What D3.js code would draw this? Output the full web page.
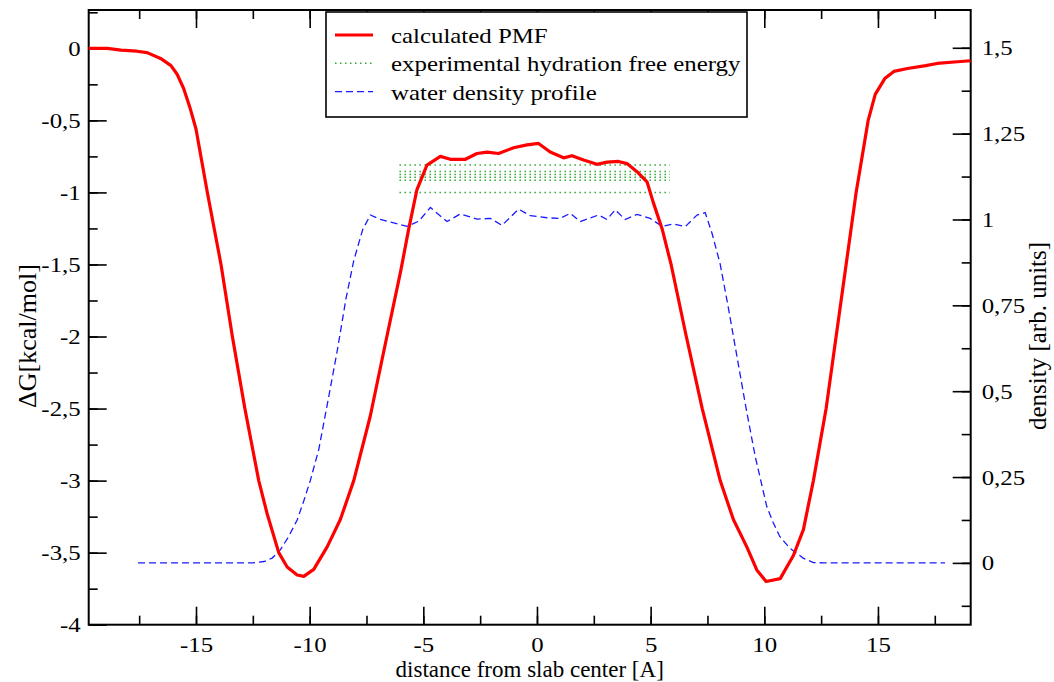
<!DOCTYPE html>
<html>
<head>
<meta charset="utf-8">
<script src="https://cdn.jsdelivr.net/npm/d3@7"></script>
<style>
  body { margin: 0; background: #fff; }
  text { font-family: "Liberation Serif", "Times New Roman", serif; fill: #000; }
</style>
</head>
<body>
<script>
// PMF of the solute across the slab (kcal/mol)
const pmfX = [-19.72, -18.9, -18.3, -17.6, -17.15, -16.56, -16.1, -15.83, -15.54, -15.25, -15.0, -14.75,
  -14.5, -14.2, -13.9, -13.4, -12.85, -12.24, -11.87, -11.36, -10.99, -10.55, -10.26, -9.82, -9.23, -8.65,
  -8.06, -7.33, -6.67, -6.0, -5.65, -5.28, -4.84, -4.25, -3.81, -3.15, -2.64, -2.2, -1.69, -1.03, -0.44,
  0.07, 0.58, 1.17, 1.54, 2.05, 2.64, 3.08, 3.59, 3.96, 4.4, 4.84, 5.13, 5.5, 5.9, 6.57, 7.27, 8.06, 8.64,
  9.23, 9.67, 10.08, 10.7, 11.28, 11.72, 12.16, 12.72, 13.16, 13.6, 14.04, 14.57, 14.88, 15.3, 15.7, 16.3,
  17.1, 17.6, 18.5, 19.08];
const pmfG = [0, 0, -0.012, -0.02, -0.03, -0.07, -0.12, -0.18, -0.28, -0.42, -0.56, -0.78,
  -1.0, -1.25, -1.5, -2.0, -2.5, -3.0, -3.23, -3.5, -3.6, -3.655, -3.665, -3.616, -3.46, -3.27,
  -3.0, -2.55, -2.05, -1.55, -1.26, -0.98, -0.81, -0.75, -0.77, -0.77, -0.73, -0.72, -0.73, -0.69, -0.67,
  -0.66, -0.72, -0.76, -0.745, -0.775, -0.805, -0.79, -0.785, -0.8, -0.856, -0.926, -1.076, -1.25, -1.5, -2.0, -2.5, -3.0, -3.27,
  -3.46, -3.62, -3.7, -3.68, -3.52, -3.34, -3.0, -2.5, -2.0, -1.5, -1.0, -0.5, -0.32, -0.21, -0.16, -0.14,
  -0.12, -0.105, -0.093, -0.086];

// water density profile (right axis)
const densX = [-17.55, -12.5, -12.0, -11.65, -11.29, -10.92, -10.55, -10.26, -9.97, -9.6, -9.2, -8.78,
  -8.4, -8.06, -7.67, -7.33, -6.89, -6.3, -5.72, -5.2, -4.69, -3.96, -3.37, -2.64, -2.05, -1.54, -0.81,
  -0.29, 0.44, 1.02, 1.46, 1.9, 2.71, 3.08, 3.44, 3.88, 4.4, 4.98, 5.5, 6.0, 6.52, 7.04, 7.4, 7.7, 8.06,
  8.4, 8.8, 9.2, 9.6, 9.89, 10.11, 10.4, 10.68, 11.12, 11.71, 12.16, 12.6, 17.95];
const densD = [0, 0, 0.004, 0.014, 0.038, 0.077, 0.125, 0.18, 0.24, 0.33, 0.47, 0.62,
  0.77, 0.88, 0.97, 1.013, 1.0, 0.99, 0.98, 0.995, 1.035, 0.994, 1.016, 1.001, 1.003, 0.983, 1.03,
  1.011, 1.005, 1.003, 1.018, 0.994, 1.013, 1.0, 1.028, 1.0, 1.015, 1.003, 0.98, 0.987, 0.979, 1.013, 1.02, 0.96, 0.87,
  0.75, 0.6, 0.45, 0.31, 0.227, 0.164, 0.116, 0.077, 0.043, 0.014, 0.001, 0, 0];

// experimental hydration free energies, drawn across the slab interior
const expG = [-0.81, -0.855, -0.875, -0.895, -0.915, -1.0];
const expRange = [-6.05, 5.85];

const legendLabels = ["calculated PMF", "experimental hydration free energy", "water density profile"];
const xTicks = [-15, -10, -5, 0, 5, 10, 15];
const leftTicks = [0, -0.5, -1, -1.5, -2, -2.5, -3, -3.5, -4];
const rightTicks = [0, 0.25, 0.5, 0.75, 1, 1.25, 1.5];

var W = 1054, H = 682;
var L = 88.7, R = 970.7, T = 10, B = 624.7;
var FS = 22, SX = 1.13;   // the original lettering is a bit wide

var svg = d3.select("body").append("svg").attr("width", W).attr("height", H);

var x  = d3.scaleLinear().domain([-19.72, 19.08]).range([L, R]);
var yL = d3.scaleLinear().domain([-4, 0.266]).range([B, T]);
var yR = d3.scaleLinear().domain([-0.18, 1.61]).range([B, T]);

var comma = d => String(d).replace(".", ",");
var minors = (lo, hi, step) => d3.range(lo, hi + 1e-9, step);

function widen(sel) {
    sel.each(function () {
        var t = d3.select(this), x0 = +t.attr("x") || 0;
        t.attr("x", x0 / SX).attr("transform", `scale(${SX},1)`);
    });
}

function axis(gen, tr, major, minor, fmt, pad) {
    var g = svg.append("g").attr("transform", tr);
    g.append("g").call(gen.tickValues(minor).tickSize(-9).tickFormat(""));
    g.append("g").call(gen.tickValues(major).tickSize(-18).tickFormat(fmt).tickPadding(pad));
    g.selectAll(".domain").remove();
    g.selectAll("line").attr("stroke", "#000").attr("stroke-width", 1.6);
    g.selectAll("text").attr("font-size", FS).style("font-family", null).call(widen);
    return g;
}

axis(d3.axisBottom(x), `translate(0,${B})`, xTicks, minors(-17.5, 17.5, 2.5), comma, 12);
axis(d3.axisTop(x), `translate(0,${T})`, xTicks, minors(-17.5, 17.5, 2.5), "", 0);
axis(d3.axisLeft(yL), `translate(${L},0)`, leftTicks, minors(-3.75, 0.25, 0.25), comma, 8);
axis(d3.axisRight(yR), `translate(${R},0)`, rightTicks, minors(-0.125, 1.5, 0.125), comma, 11);

// frame
svg.append("rect").attr("x", L).attr("y", T).attr("width", R - L).attr("height", B - T)
    .attr("fill", "none").attr("stroke", "#000").attr("stroke-width", 2);

var plot = svg.append("g");

// experimental lines
expG.forEach(g => {
    plot.append("line")
        .attr("x1", x(expRange[0])).attr("x2", x(expRange[1]))
        .attr("y1", yL(g)).attr("y2", yL(g))
        .attr("stroke", "#33aa33").attr("stroke-width", 1.5).attr("stroke-dasharray", "1.5,3.5");
});

// density (blue dashed)
plot.append("path")
    .datum(d3.zip(densX, densD))
    .attr("fill", "none").attr("stroke", "#1a1aff").attr("stroke-width", 1.3)
    .attr("stroke-dasharray", "7,4")
    .attr("d", d3.line().x(d => x(d[0])).y(d => yR(d[1])));

// PMF (red)
plot.append("path")
    .datum(d3.zip(pmfX, pmfG))
    .attr("fill", "none").attr("stroke", "#ff0000").attr("stroke-width", 3.2)
    .attr("stroke-linejoin", "round")
    .attr("d", d3.line().x(d => x(d[0])).y(d => yL(d[1])));

// axis titles
svg.append("text").attr("x", (L + R) / 2).attr("y", 677).attr("text-anchor", "middle")
    .attr("font-size", 23).text("distance from slab center [A]");
svg.append("text").attr("transform", "translate(36,336) rotate(-90)").attr("text-anchor", "middle")
    .attr("font-size", 26).text("ΔG[kcal/mol]");
svg.append("text").attr("transform", "translate(1046,336) rotate(-90)").attr("text-anchor", "middle")
    .attr("font-size", 25).text("density [arb. units]");

// legend
var lg = svg.append("g");
lg.append("rect").attr("x", 326).attr("y", 12).attr("width", 421).attr("height", 105)
    .attr("fill", "#fff").attr("stroke", "#000").attr("stroke-width", 1.6);
var styles = [
    { stroke: "#ff0000", w: 3.2, dash: null },
    { stroke: "#33aa33", w: 1.5, dash: "1.5,3.5" },
    { stroke: "#1a1aff", w: 1.3, dash: "7,4" },
];
legendLabels.forEach((t, i) => {
    var yy = 35 + i * 28.3;
    lg.append("line").attr("x1", 335).attr("x2", 373).attr("y1", yy).attr("y2", yy)
        .attr("stroke", styles[i].stroke).attr("stroke-width", styles[i].w)
        .attr("stroke-dasharray", styles[i].dash);
    lg.append("text").attr("transform", `translate(391,${yy + 8}) scale(${SX},1)`)
        .attr("font-size", FS).text(t);
});
</script>
</body>
</html>
